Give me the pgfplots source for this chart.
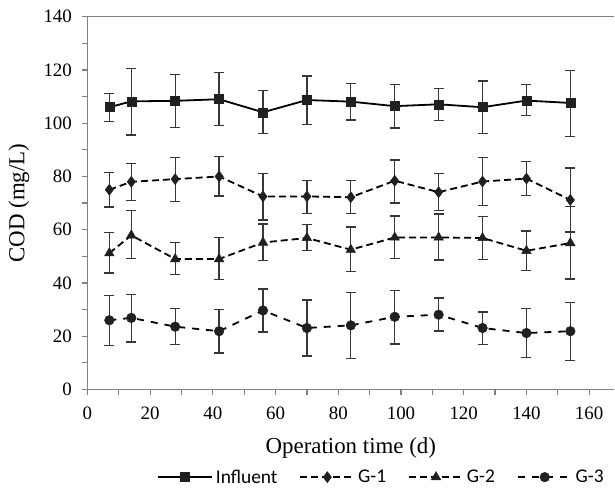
\documentclass[border=0pt]{standalone}
\usepackage{pgfplots}
\pgfplotsset{compat=1.18}
\usepackage{fontspec}
\setmainfont{Liberation Serif}
\newfontfamily\serf{Liberation Serif}
\newfontfamily\legfont{Carlito}
\definecolor{axgray}{RGB}{128,128,128}
\definecolor{mk}{RGB}{35,31,32}
\definecolor{eb}{RGB}{55,55,55}
\pgfplotsset{
  ebar/.style={error bars/.cd, y dir=both, y explicit,
    error bar style={solid, line width=1.3bp, eb},
    error mark options={solid, rotate=90, mark size=5bp, line width=1.3bp, eb}},
}
\begin{document}
\begin{tikzpicture}
\begin{axis}[
  scale only axis, width=527.5bp, height=373.3bp,
  xmin=0, xmax=168, ymin=0, ymax=140,
  axis x line*=box, axis y line*=left,
  axis line style={axgray, line width=1.5bp},
  xtick={0,20,...,160}, minor xtick={10,30,...,150},
  ytick={0,20,...,140}, minor ytick={10,30,...,130},
  tick align=outside, xtick pos=bottom, ytick pos=left,
  major tick length=5.5bp, minor tick length=5.5bp,
  every tick/.style={axgray, line width=1.2bp},
  /pgf/number format/assume math mode=true,
  ticklabel style={font=\serf\fontsize{19}{21}\selectfont},
  xticklabel style={yshift=-8.5bp},
  yticklabel style={xshift=-6.5bp},
  label style={font=\serf\fontsize{23}{26}\selectfont},
  xlabel={Operation time (d)},
  ylabel={COD (mg/L)},
  xlabel style={at={(axis description cs:0.5,-0.158)}, anchor=center},
  ylabel style={at={(axis description cs:-0.13,0.5)}, anchor=center},
  legend style={at={(axis description cs:0.559,-0.235)}, anchor=center,
    draw=none, fill=none, legend columns=-1,
    font=\legfont\fontsize{19.5}{21}\selectfont,
    /tikz/every even column/.append style={column sep=19bp},
    nodes={inner xsep=3bp, inner ysep=1bp}},
  legend image code/.code={\draw[mark repeat=2,mark phase=2,#1] plot coordinates {(0bp,0bp) (27bp,0bp) (54bp,0bp)};},
  clip=false,
]
\addplot[black, line width=1.8bp, mark=square*, mark size=4.5bp,
  mark options={solid, fill=mk, draw=mk, line width=0.5bp}, ebar]
coordinates {
(7,106.0) += (0,5.2) -= (0,5.3)
(14,108.2) += (0,12.4) -= (0,12.6)
(28,108.4) += (0,10.0) -= (0,10.0)
(42,109.0) += (0,10.0) -= (0,9.8)
(56,104.1) += (0,8.1) -= (0,7.9)
(70,108.7) += (0,9.0) -= (0,9.1)
(84,108.1) += (0,6.9) -= (0,6.9)
(98,106.4) += (0,8.2) -= (0,8.2)
(112,107.1) += (0,5.9) -= (0,6.1)
(126,106.0) += (0,9.9) -= (0,9.8)
(140,108.5) += (0,6.0) -= (0,5.6)
(154,107.6) += (0,12.3) -= (0,12.6)
};
\addlegendentry{Influent}
\addplot[black, line width=1.8bp, dash pattern=on 7bp off 4bp, mark=diamond*, mark size=5.5bp,
  mark options={solid, fill=mk, draw=mk, line width=0.5bp}, ebar]
coordinates {
(7,75.0) += (0,6.5) -= (0,6.5)
(14,78.0) += (0,6.9) -= (0,6.9)
(28,79.0) += (0,8.1) -= (0,8.3)
(42,80.0) += (0,7.4) -= (0,7.3)
(56,72.5) += (0,8.7) -= (0,8.8)
(70,72.5) += (0,6.1) -= (0,6.3)
(84,72.2) += (0,6.2) -= (0,6.2)
(98,78.4) += (0,7.8) -= (0,8.4)
(112,74.1) += (0,7.0) -= (0,7.0)
(126,78.1) += (0,9.0) -= (0,9.0)
(140,79.2) += (0,6.3) -= (0,6.3)
(154,71.2) += (0,12.0) -= (0,12.1)
};
\addlegendentry{G-1}
\addplot[black, line width=1.8bp, dash pattern=on 7bp off 4bp, mark=triangle*, mark size=5.5bp,
  mark options={solid, fill=mk, draw=mk, line width=0.5bp}, ebar]
coordinates {
(7,51.2) += (0,7.7) -= (0,7.5)
(14,57.9) += (0,9.2) -= (0,8.8)
(28,49.0) += (0,6.2) -= (0,5.8)
(42,49.0) += (0,8.1) -= (0,7.8)
(56,55.2) += (0,7.0) -= (0,6.8)
(70,56.9) += (0,5.1) -= (0,4.7)
(84,52.5) += (0,8.5) -= (0,8.1)
(98,57.1) += (0,8.0) -= (0,8.0)
(112,57.1) += (0,8.8) -= (0,8.5)
(126,56.9) += (0,8.1) -= (0,8.2)
(140,52.1) += (0,7.4) -= (0,7.4)
(154,55.0) += (0,13.7) -= (0,13.5)
};
\addlegendentry{G-2}
\addplot[black, line width=1.8bp, dash pattern=on 7bp off 7bp, mark=*, mark size=4.8bp,
  mark options={solid, fill=mk, draw=mk, line width=0.5bp}, ebar]
coordinates {
(7,26.0) += (0,9.4) -= (0,9.4)
(14,26.9) += (0,8.8) -= (0,9.0)
(28,23.6) += (0,6.8) -= (0,6.6)
(42,21.9) += (0,8.2) -= (0,8.2)
(56,29.7) += (0,8.0) -= (0,8.1)
(70,23.1) += (0,10.5) -= (0,10.5)
(84,24.1) += (0,12.4) -= (0,12.5)
(98,27.3) += (0,9.9) -= (0,10.2)
(112,28.1) += (0,6.3) -= (0,6.1)
(126,23.1) += (0,6.0) -= (0,6.1)
(140,21.2) += (0,9.2) -= (0,9.2)
(154,21.9) += (0,10.8) -= (0,10.9)
};
\addlegendentry{G-3}
\end{axis}
\path[use as bounding box] (-87.5bp,-98bp) rectangle (527.5bp,390bp);
\end{tikzpicture}
\end{document}
